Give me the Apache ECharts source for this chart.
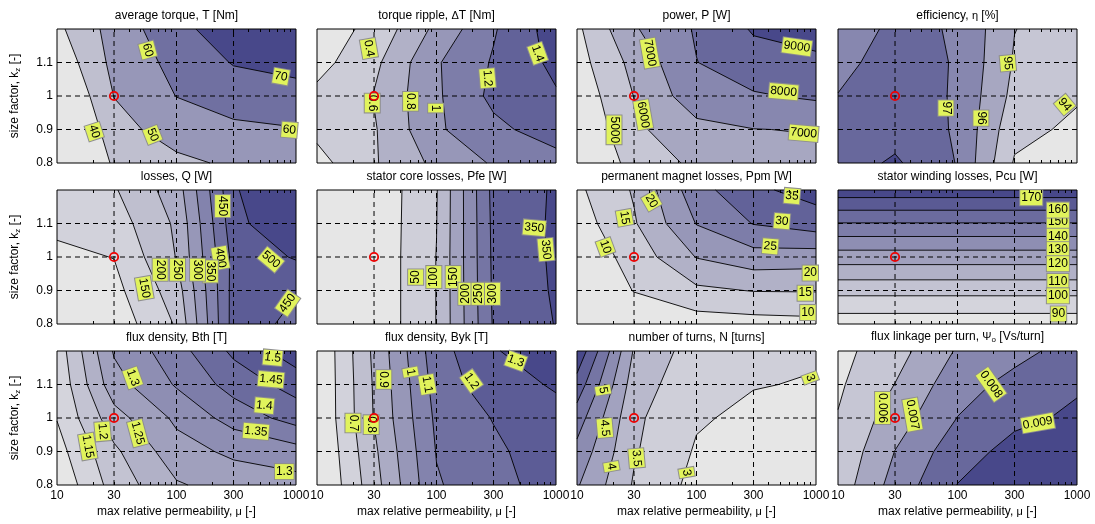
<!DOCTYPE html>
<html><head><meta charset="utf-8">
<script src="https://cdn.jsdelivr.net/npm/echarts@6/dist/echarts.min.js"></script>
<style>html,body{margin:0;padding:0;background:#fff}#c{width:1095px;height:524px}</style>
</head><body><div id="c"></div>
<script>
// ---------------- data ----------------
const muValues = [10, 30, 100, 300, 1000];          // grid columns (x)
const kzValues = [0.8, 0.9, 1.0, 1.1, 1.2];          // grid rows (y)
const xTickLabels = [10, 30, 100, 300, 1000];
const xMinorTicks = [20, 30, 40, 50, 60, 70, 80, 90, 200, 300, 400, 500, 600, 700, 800, 900];
const yTickLabels = [0.8, 0.9, 1, 1.1];
const gridMu = [30, 100, 300];
const gridKz = [0.9, 1, 1.1];
const designPoint = [30, 1];

const titles = [
  'average torque, T [Nm]', 'torque ripple, {g|Δ}T [Nm]', 'power, P [W]', 'efficiency, {g|η} [%]',
  'losses, Q [W]', 'stator core losses, Pfe [W]', 'permanent magnet losses, Ppm [W]', 'stator winding losses, Pcu [W]',
  'flux density, Bth [T]', 'flux density, Byk [T]', 'number of turns, N [turns]', 'flux linkage per turn, {g|Ψ}{s|o} [Vs/turn]'
];
const xName = 'max relative permeability, {g|μ} [-]';
const yName = 'size factor, k{s|z} [-]';

// each matrix: rows = kz 0.8..1.2, columns = mu 10..1000
const torqueZ = [[15, 41.9, 48, 51.4, 54], [19.5, 46.7, 54.1, 58, 59.5], [26.2, 50.2, 60.2, 64.6, 66.6], [32.5, 52.8, 62.9, 70.6, 73], [37.7, 54, 66.9, 76, 78]];
const torqueLevels = [40, 50, 60, 70];
const torqueLabels = [[57.4, 1.137, '60', -75], [748, 1.058, '70', -10], [20.5, 0.894, '40', -72], [63, 0.884, '50', -68], [880, 0.899, '60', -5]];

const rippleZ = [[0.33, 0.58, 0.85, 1.02, 1.12], [0.45, 0.58, 0.97, 1.15, 1.30], [0.45, 0.61, 0.97, 1.25, 1.38], [0.33, 0.55, 0.98, 1.22, 1.45], [0.30, 0.45, 0.85, 1.18, 1.50]];
const rippleLevels = [0.4, 0.6, 0.8, 1.0, 1.2, 1.4];
const rippleLabels = [[27.2, 1.142, '0.4', -80], [29, 0.979, '0.6', -90], [60.7, 0.984, '0.8', -90], [98.4, 0.964, '1', -90], [267, 1.053, '1.2', -85], [702, 1.127, '1.4', -70]];

const powerZ = [[3700, 5400, 6200, 6600, 6700], [4000, 5800, 6700, 6980, 7050], [4300, 6020, 7600, 7900, 8150], [4600, 6300, 7980, 8600, 8800], [4800, 6900, 8100, 9100, 9400]];
const powerLevels = [5000, 6000, 7000, 8000, 9000];
const powerLabels = [[40.7, 1.128, '7000', -80], [35.8, 0.944, '6000', -80], [20.4, 0.899, '5000', -90], [692, 1.147, '9000', -8], [535, 1.013, '8000', -5], [788, 0.889, '7000', -5]];

const effZ = [[97.5, 98.15, 96.95, 93.9, 93.5], [97.4, 97.6, 96.9, 94.3, 93.8], [97.02, 97.5, 96.9, 94.7, 94.1], [96.8, 97.3, 96.95, 94.9, 94.4], [96.6, 97.15, 96.95, 95.02, 94.5]];
const effLevels = [94, 95, 96, 97, 98];
const effLabels = [[264, 1.098, '95', -85], [80, 0.964, '97', -90], [157, 0.934, '96', -90], [789, 0.974, '94', -50]];

const lossZ = [[105, 118, 205, 470, 440], [125, 135, 225, 468, 452], [140, 151, 252, 465, 505], [160, 175, 258, 480, 560], [170, 195, 275, 490, 600]];
const lossLevels = [150, 200, 250, 300, 350, 400, 450, 500];
const lossLabels = [[243, 1.152, '450', -90], [233, 0.997, '400', -80], [192, 0.957, '350', -90], [150, 0.962, '300', -90], [102, 0.962, '250', -90], [73, 0.962, '200', -90], [53.8, 0.907, '150', -80], [617, 0.992, '500', -40], [851, 0.862, '450', 55]];

const pfeZ = [[5, 12, 101, 305, 352], [5, 12, 101, 308, 356], [5, 12, 101, 310, 358], [5, 12, 99, 312, 358], [5, 12, 97, 315, 356]];
const pfeLevels = [50, 100, 150, 200, 250, 300, 350];
const pfeLabels = [[66.9, 0.94, '50', 90], [95, 0.94, '100', 90], [138, 0.94, '150', 90], [176, 0.89, '200', 90], [227, 0.89, '250', 90], [294, 0.89, '300', 90], [658, 1.087, '350', -5], [824, 1.022, '350', -85]];

const ppmZ = [[4, 6, 7.5, 8, 8.5], [4.5, 10.2, 14, 15.2, 15.3], [6, 12, 20.2, 23, 22.5], [7.5, 14.5, 25.2, 30.2, 32.5], [9, 15.5, 28, 34, 37]];
const ppmLevels = [10, 15, 20, 25, 30, 35];
const ppmLabels = [[630, 1.182, '35', -5], [518, 1.107, '30', -5], [414, 1.032, '25', -5], [42, 1.167, '20', -60], [25, 1.117, '15', -80], [17.3, 1.03, '10', -70], [896, 0.952, '20', 0], [813, 0.892, '15', 0], [855, 0.834, '10', 0]];

const pcuZ = [[84, 84, 84, 84, 84], [103, 103, 103, 103, 103], [125, 125, 125, 125, 125], [149.5, 149.5, 149.5, 149.5, 149.5], [176, 176, 176, 176, 176]];
const pcuLevels = [90, 100, 110, 120, 130, 140, 150, 160, 170];
const pcuLabels = [[692, 1.104, '150', 0], [414, 1.177, '170', 0], [692, 1.14, '160', 0], [692, 1.062, '140', 0], [692, 1.022, '130', 0], [692, 0.98, '120', 0], [692, 0.927, '110', 0], [692, 0.884, '100', 0], [700, 0.83, '90', 0]];

const bthZ = [[1.06, 1.17, 1.245, 1.27, 1.28], [1.08, 1.19, 1.28, 1.31, 1.33], [1.102, 1.23, 1.31, 1.37, 1.42], [1.11, 1.28, 1.355, 1.42, 1.47], [1.12, 1.305, 1.38, 1.46, 1.53]];
const bthLevels = [1.1, 1.15, 1.2, 1.25, 1.3, 1.35, 1.4, 1.45, 1.5];
const bthLabels = [[638, 1.18, '1.5', -5], [617, 1.115, '1.45', -5], [543, 1.037, '1.4', -5], [462, 0.96, '1.35', -5], [798, 0.84, '1.3', 0], [43, 1.12, '1.3', -70], [47.3, 0.955, '1.25', -75], [24.1, 0.96, '1.2', -85], [18.1, 0.915, '1.15', -80]];

const bykZ = [[0.48, 0.76, 1.09, 1.17, 1.24], [0.49, 0.78, 1.105, 1.18, 1.26], [0.50, 0.805, 1.12, 1.205, 1.27], [0.50, 0.81, 1.14, 1.26, 1.31], [0.50, 0.82, 1.16, 1.29, 1.38]];
const bykLevels = [0.6, 0.7, 0.8, 0.9, 1.0, 1.1, 1.2, 1.3];
const bykLabels = [[461, 1.17, '1.3', -20], [196, 1.11, '1.2', -55], [83.7, 1.1, '1.1', -80], [60.6, 1.137, '1', -80], [36.2, 1.115, '0.9', -90], [20, 0.985, '0.7', -90], [28.4, 0.98, '0.8', -90]];

const turnsZ = [[4.55, 3.45, 2.85, 2.75, 2.7], [4.85, 3.55, 2.95, 2.85, 2.8], [5.25, 3.6, 3.05, 2.9, 2.88], [5.8, 3.75, 3.15, 3.02, 2.97], [6.4, 3.95, 3.25, 3.1, 3.05]];
const turnsLevels = [3, 3.5, 4, 4.5, 5, 5.5, 6];
const turnsLabels = [[16.5, 1.083, '5', -80], [17.1, 0.97, '4.5', -85], [19.4, 0.855, '4', -80], [31.5, 0.88, '3.5', -85], [82.6, 0.837, '3', -80], [896, 1.12, '3', -70]];

const psiZ = [[0.00543, 0.00739, 0.00902, 0.0096, 0.0099], [0.0052, 0.00702, 0.0086, 0.0093, 0.0096], [0.00505, 0.0065, 0.00802, 0.0088, 0.00915], [0.00485, 0.00602, 0.0076, 0.0083, 0.0089], [0.0047, 0.0056, 0.0071, 0.0077, 0.0084]];
const psiLevels = [0.005, 0.006, 0.007, 0.008, 0.009];
const psiLabels = [[23.6, 1.03, '0.006', -90], [42, 1.01, '0.007', -80], [191, 1.1, '0.008', -55], [470, 0.985, '0.009', 10]];

const panels = [
  {z: torqueZ, levels: torqueLevels, labels: torqueLabels},
  {z: rippleZ, levels: rippleLevels, labels: rippleLabels},
  {z: powerZ, levels: powerLevels, labels: powerLabels},
  {z: effZ, levels: effLevels, labels: effLabels},
  {z: lossZ, levels: lossLevels, labels: lossLabels},
  {z: pfeZ, levels: pfeLevels, labels: pfeLabels},
  {z: ppmZ, levels: ppmLevels, labels: ppmLabels},
  {z: pcuZ, levels: pcuLevels, labels: pcuLabels},
  {z: bthZ, levels: bthLevels, labels: bthLabels},
  {z: bykZ, levels: bykLevels, labels: bykLabels},
  {z: turnsZ, levels: turnsLevels, labels: turnsLabels},
  {z: psiZ, levels: psiLevels, labels: psiLabels}
];

// ---------------- styling / layout ----------------
const FONT = 'Arial, "Liberation Sans", Helvetica, sans-serif';
const colLeft = [57, 317, 577, 838], rowTop = [29, 190, 351], GW = 239, GH = 134;
const C0 = [230, 230, 230], C1 = [72, 72, 138];
function bandColor(i, n) {
  const t = n > 1 ? i / (n - 1) : 0;
  const c = C0.map((v, k) => Math.round(v + (C1[k] - v) * t));
  return 'rgb(' + c.join(',') + ')';
}
const richStyles = {
  g: {fontSize: 11, color: '#000', fontFamily: FONT},
  s: {fontSize: 8, color: '#000', fontFamily: FONT, padding: [6, 0, 0, 0]}
};

function makeRender(p) {
  return function (params, api) {
    const X = muValues.map(v => api.coord([v, kzValues[0]])[0]);
    const Y = kzValues.map(v => api.coord([muValues[0], v])[1]);
    const Z = p.z, L = p.levels, nb = L.length + 1;
    const nx = muValues.length, ny = kzValues.length;
    const kids = [];
    kids.push({type: 'rect', shape: {x: X[0], y: Y[ny - 1], width: X[nx - 1] - X[0], height: Y[0] - Y[ny - 1]}, style: {fill: bandColor(0, nb)}});
    let lines = '';
    const P = q => q[0].toFixed(2) + ' ' + q[1].toFixed(2);
    L.forEach((lev, k) => {
      let d = '';
      for (let j = 0; j < ny - 1; j++) for (let i = 0; i < nx - 1; i++) {
        const cs = [[X[i], Y[j], Z[j][i]], [X[i + 1], Y[j], Z[j][i + 1]], [X[i + 1], Y[j + 1], Z[j + 1][i + 1]], [X[i], Y[j + 1], Z[j + 1][i]]];
        const poly = [], cross = [];
        for (let m = 0; m < 4; m++) {
          const a = cs[m], b = cs[(m + 1) % 4];
          const ha = a[2] >= lev, hb = b[2] >= lev;
          if (ha) poly.push([a[0], a[1]]);
          if (ha !== hb) {
            const t = (lev - a[2]) / (b[2] - a[2]);
            const pt = [a[0] + t * (b[0] - a[0]), a[1] + t * (b[1] - a[1])];
            poly.push(pt); cross.push(pt);
          }
        }
        if (poly.length >= 3) d += 'M' + poly.map(P).join('L') + 'Z';
        if (cross.length === 2) lines += 'M' + P(cross[0]) + 'L' + P(cross[1]);
        else if (cross.length === 4) {
          const cen = (cs[0][2] + cs[1][2] + cs[2][2] + cs[3][2]) / 4;
          if ((cen >= lev) === (cs[0][2] >= lev)) {
            lines += 'M' + P(cross[0]) + 'L' + P(cross[1]) + 'M' + P(cross[2]) + 'L' + P(cross[3]);
          } else {
            lines += 'M' + P(cross[3]) + 'L' + P(cross[0]) + 'M' + P(cross[1]) + 'L' + P(cross[2]);
          }
        }
      }
      if (d) kids.push({type: 'path', shape: {pathData: d}, style: {fill: bandColor(k + 1, nb)}});
    });
    if (lines) kids.push({type: 'path', shape: {pathData: lines}, style: {fill: null, stroke: '#000', lineWidth: 0.9}});
    gridMu.forEach(v => {
      const x = api.coord([v, kzValues[0]])[0];
      kids.push({type: 'line', shape: {x1: x, y1: Y[0], x2: x, y2: Y[ny - 1]}, style: {stroke: '#000', lineWidth: 1, lineDash: [5, 4]}});
    });
    gridKz.forEach(v => {
      const y = api.coord([muValues[0], v])[1];
      kids.push({type: 'line', shape: {x1: X[0], y1: y, x2: X[nx - 1], y2: y}, style: {stroke: '#000', lineWidth: 1, lineDash: [5, 4]}});
    });
    kids.push({type: 'rect', shape: {x: X[0], y: Y[ny - 1], width: X[nx - 1] - X[0], height: Y[0] - Y[ny - 1]}, style: {fill: null, stroke: '#000', lineWidth: 1}});
    p.labels.forEach(lb => {
      const pt = api.coord([lb[0], lb[1]]);
      kids.push({type: 'text', x: pt[0], y: pt[1], rotation: lb[3] * Math.PI / 180,
        style: {text: lb[2], fill: '#000', font: '12px ' + FONT, align: 'center', verticalAlign: 'middle',
          backgroundColor: '#e1f35c', borderColor: '#8e8e8e', borderWidth: 1, padding: [2, 1, 1, 1]}});
    });
    const dp = api.coord(designPoint);
    kids.push({type: 'circle', shape: {cx: dp[0], cy: dp[1], r: 4.2}, style: {fill: null, stroke: '#ee0000', lineWidth: 1.8}});
    return {type: 'group', children: kids};
  };
}

const grids = [], xAxes = [], yAxes = [], series = [];
panels.forEach((p, g) => {
  const r = Math.floor(g / 4), c = g % 4;
  grids.push({left: colLeft[c], top: rowTop[r], width: GW, height: GH});
  const tick = {show: true, inside: true, length: 3, customValues: xMinorTicks, lineStyle: {color: '#000', width: 1}};
  xAxes.push({type: 'log', logBase: 10, gridIndex: g, min: 10, max: 1000, position: 'bottom', z: 10,
    axisLine: {show: false}, splitLine: {show: false}, minorTick: {show: false}, axisTick: tick,
    axisLabel: {show: r === 2, customValues: xTickLabels, formatter: v => String(v), margin: 5, fontSize: 12, color: '#000', fontFamily: FONT},
    name: r === 2 ? xName : '', nameLocation: 'middle', nameGap: 21,
    nameTextStyle: {fontSize: 12, color: '#000', fontFamily: FONT, rich: richStyles}});
  xAxes.push({type: 'log', logBase: 10, gridIndex: g, min: 10, max: 1000, position: 'top', z: 10,
    axisLine: {show: false}, splitLine: {show: false}, minorTick: {show: false}, axisTick: tick,
    axisLabel: {show: false},
    name: titles[g], nameLocation: 'middle', nameGap: 7,
    nameTextStyle: {fontSize: 12, color: '#000', fontFamily: FONT, rich: richStyles}});
  yAxes.push({type: 'value', gridIndex: g, min: 0.8, max: 1.2, z: 10,
    axisLine: {show: false}, axisTick: {show: false}, splitLine: {show: false},
    axisLabel: {show: c === 0, customValues: yTickLabels, margin: 4, fontSize: 12, color: '#000', fontFamily: FONT},
    name: c === 0 ? yName : '', nameLocation: 'middle', nameGap: 35, nameRotate: 90,
    nameTextStyle: {fontSize: 12, color: '#000', fontFamily: FONT, rich: richStyles}});
  series.push({type: 'custom', xAxisIndex: 2 * g, yAxisIndex: g, data: [designPoint.slice()], clip: false, silent: true,
    animation: false, renderItem: makeRender(p)});
});

const chart = echarts.init(document.getElementById('c'), null, {renderer: 'canvas', width: 1095, height: 524});
chart.setOption({animation: false, backgroundColor: '#fff', grid: grids, xAxis: xAxes, yAxis: yAxes, series: series});
</script></body></html>
